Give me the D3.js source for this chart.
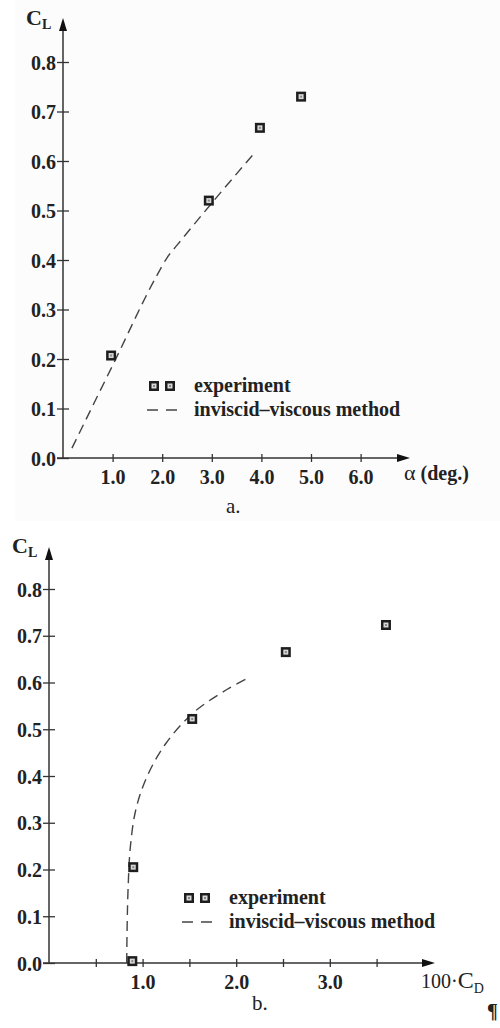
<!DOCTYPE html>
<html>
<head>
<meta charset="utf-8">
<script src="https://cdn.jsdelivr.net/npm/d3@7"></script>
<style>
  body { margin: 0; background: #fff; }
  text { font-family: "Liberation Serif", "Times New Roman", serif; fill: #222; }
</style>
</head>
<body>
<script>
// data

// a. lift vs angle of attack
var alphaTicks = [1, 2, 3, 4, 5, 6];
var clTicks = [0, 0.1, 0.2, 0.3, 0.4, 0.5, 0.6, 0.7, 0.8];
var expAlpha = [0.97, 2.94, 3.97, 4.80];
var expClA = [0.207, 0.52, 0.667, 0.730];
var calcAlpha = [0.18, 1.0, 1.9, 2.1, 2.3, 3.0, 3.85];
var calcClA = [0.02, 0.187, 0.37, 0.405, 0.43, 0.515, 0.615];

// b. drag polar
var cdTicks = [0.5, 1, 1.5, 2, 2.5, 3, 3.5];
var cdLabels = [1, 2, 3];
var expCd = [0.89, 0.90, 1.53, 2.53, 3.60];
var expClB = [0.004, 0.205, 0.522, 0.665, 0.723];
var calcCd = [0.83, 0.835, 0.845, 0.87, 0.93, 1.05, 1.25, 1.54, 1.90, 2.13];
var calcClB = [0.0, 0.08, 0.16, 0.25, 0.33, 0.40, 0.47, 0.535, 0.585, 0.61];

var legendNames = ["experiment", "inviscid\u2013viscous method"];

var svg = d3.select("body").append("svg")
  .attr("width", 500).attr("height", 1028);

svg.append("rect").attr("x", 15).attr("y", 0).attr("width", 485).attr("height", 521).attr("fill", "#fcfcfc");

var fmt = d3.format(".1f");
var AXIS = "#333";

function arrow(g, x, y, dir){
  // filled triangle, tip at (x,y)
  var p = dir == "up" ? [[x, y], [x-4, y+13], [x+4, y+13]]
                      : [[x, y], [x-13, y-4], [x-13, y+4]];
  g.append("path").attr("d", "M" + p.join("L") + "Z").attr("fill", "#111");
}

function marker(g, cx, cy){
  g.append("rect").attr("x", cx-5).attr("y", cy-5).attr("width", 10).attr("height", 10).attr("fill", "#1e1e1e");
  g.append("rect").attr("x", cx-2.5).attr("y", cy-2.5).attr("width", 5).attr("height", 5).attr("fill", "#d8d8d8");
  g.append("rect").attr("x", cx-1).attr("y", cy-1).attr("width", 2).attr("height", 2).attr("fill", "#888");
}

function makeYAxis(g, y, x0, top){
  var ax = g.append("g").attr("transform", "translate(" + x0 + ",0)")
    .call(d3.axisLeft(y).tickValues(clTicks).tickFormat(fmt).tickSize(6).tickPadding(1));
  ax.select(".domain").remove();
  ax.selectAll(".tick line").attr("x1", 6).attr("stroke", AXIS).attr("stroke-width", 1.3);
  ax.selectAll(".tick text").attr("font-size", 20).attr("font-family", null)
    .style("font-weight", "bold").attr("dy", "0.36em");
  g.append("line").attr("x1", x0).attr("x2", x0).attr("y1", y(0)).attr("y2", top + 8)
    .attr("stroke", AXIS).attr("stroke-width", 1.5);
  arrow(g, x0, top, "up");
}

function makeXAxis(g, x, y0, right, vals, labels){
  var ax = g.append("g").attr("transform", "translate(0," + y0 + ")")
    .call(d3.axisBottom(x).tickValues(vals).tickSize(4).tickFormat(function(d){
      return labels.indexOf(d) >= 0 ? fmt(d) : "";
    }).tickPadding(8));
  ax.select(".domain").remove();
  ax.selectAll(".tick line").attr("y1", -4).attr("stroke", AXIS).attr("stroke-width", 1.3);
  ax.selectAll(".tick text").attr("font-size", 20).attr("font-family", null).style("font-weight", "bold");
  g.append("line").attr("x1", x(0) - 6).attr("x2", right - 8).attr("y1", y0).attr("y2", y0)
    .attr("stroke", AXIS).attr("stroke-width", 1.5);
  arrow(g, right, y0, "right");
}

function clLabel(g, x, y){
  var t = g.append("text").attr("x", x).attr("y", y).attr("font-size", 22).style("font-weight", "bold");
  t.append("tspan").text("C");
  t.append("tspan").attr("font-size", 14).attr("dy", 4).text("L");
}

function legend(g, x, y){
  marker(g, x, y);
  marker(g, x + 16, y);
  g.append("text").attr("x", x + 40).attr("y", y + 6).attr("font-size", 20)
    .style("font-weight", "bold").text(legendNames[0]);
  g.append("line").attr("x1", x - 7).attr("x2", x + 28).attr("y1", y + 24).attr("y2", y + 24)
    .attr("stroke", "#444").attr("stroke-width", 1.4).attr("stroke-dasharray", "11,8");
  g.append("text").attr("x", x + 40).attr("y", y + 30).attr("font-size", 20)
    .style("font-weight", "bold").text(legendNames[1]);
}

// ---------- a. ----------
var ga = svg.append("g");
var xa = d3.scaleLinear().domain([0, 7]).range([63, 410.2]);
var ya = d3.scaleLinear().domain([0, 0.8]).range([458, 62]);

makeXAxis(ga, xa, ya(0), 410, alphaTicks, alphaTicks);
makeYAxis(ga, ya, xa(0), 18);
clLabel(ga, 26, 25);

var lineA = d3.line().x(function(d){ return xa(d[0]); }).y(function(d){ return ya(d[1]); })
  .curve(d3.curveMonotoneX);
ga.append("path").datum(d3.zip(calcAlpha, calcClA)).attr("d", lineA)
  .attr("fill", "none").attr("stroke", "#444").attr("stroke-width", 1.4).attr("stroke-dasharray", "10,6");

d3.zip(expAlpha, expClA).forEach(function(d){ marker(ga, xa(d[0]), ya(d[1])); });

legend(ga, 154, 386);

var ta = ga.append("text").attr("x", 404).attr("y", 480).attr("font-size", 20);
ta.append("tspan").attr("font-size", 22).text("\u03b1");
ta.append("tspan").style("font-weight", "bold").text(" (deg.)");
ga.append("text").attr("x", 226).attr("y", 513).attr("font-size", 21).text("a.");

// ---------- b. ----------
var gb = svg.append("g");
var xb = d3.scaleLinear().domain([0, 4]).range([49, 423.4]);
var yb = d3.scaleLinear().domain([0, 0.8]).range([963, 589]);

makeXAxis(gb, xb, yb(0), 435, cdTicks, cdLabels);
makeYAxis(gb, yb, xb(0), 547);
clLabel(gb, 12, 553);

var lineB = d3.line().x(function(d){ return xb(d[0]); }).y(function(d){ return yb(d[1]); })
  .curve(d3.curveCatmullRom);
gb.append("path").datum(d3.zip(calcCd, calcClB)).attr("d", lineB)
  .attr("fill", "none").attr("stroke", "#444").attr("stroke-width", 1.4).attr("stroke-dasharray", "10,6");

d3.zip(expCd, expClB).forEach(function(d){ marker(gb, xb(d[0]), yb(d[1])); });

legend(gb, 189, 898);

var tb = gb.append("text").attr("x", 421).attr("y", 988).attr("font-size", 20);
tb.append("tspan").text("100\u00b7");
tb.append("tspan").attr("font-size", 24).text("C");
tb.append("tspan").attr("font-size", 14).attr("dy", 5).text("D");
gb.append("text").attr("x", 252).attr("y", 1010).attr("font-size", 21).text("b.");
gb.append("text").attr("x", 487).attr("y", 1018).attr("font-size", 20).style("font-weight", "bold").text("\u00b6");
</script>
</body>
</html>
